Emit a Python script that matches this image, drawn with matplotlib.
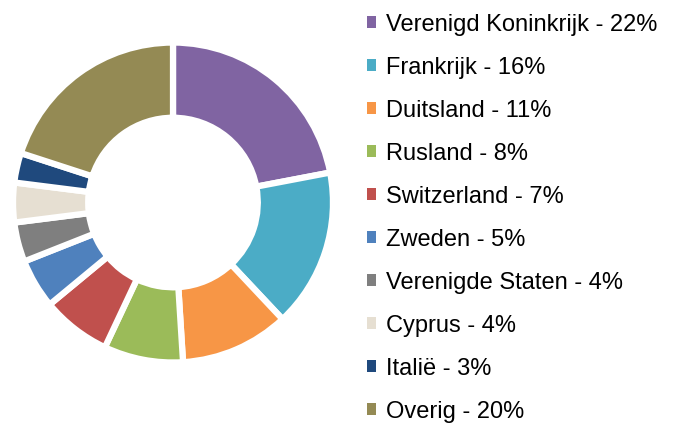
import matplotlib.pyplot as plt
from matplotlib.patches import Patch

# landen en aandeel (%)
labels = ["Verenigd Koninkrijk", "Frankrijk", "Duitsland", "Rusland", "Switzerland",
          "Zweden", "Verenigde Staten", "Cyprus", "Italië", "Overig"]
values = [22, 16, 11, 8, 7, 5, 4, 4, 3, 20]
colors = ["#8064A2", "#4BACC6", "#F79646", "#9BBB59", "#C0504D",
          "#4F81BD", "#7F7F7F", "#E6DFD2", "#1F497D", "#948A54"]

plt.rcParams['font.family'] = ['Liberation Sans', 'DejaVu Sans']

fig = plt.figure(figsize=(6.75, 4.24), dpi=100)
ax = fig.add_axes([0.0193, 0.145, 0.474, 0.7547])

ax.pie(values, colors=colors, startangle=90, counterclock=False,
       wedgeprops=dict(width=0.47, edgecolor='white', linewidth=4.5))
ax.set_xlim(-1.0, 1.0)
ax.set_ylim(-1.0, 1.0)
ax.set_aspect('equal')

handles = [Patch(facecolor=c, edgecolor='none') for c in colors]
leg_labels = [f"{l} - {v}%" for l, v in zip(labels, values)]
fig.legend(handles, leg_labels, loc='upper left', bbox_to_anchor=(0.544, 0.968),
           frameon=False, fontsize=17, handlelength=0.38, handleheight=0.38,
           handletextpad=0.42, labelspacing=0.89, borderpad=0, borderaxespad=0)

plt.savefig('out.png')
